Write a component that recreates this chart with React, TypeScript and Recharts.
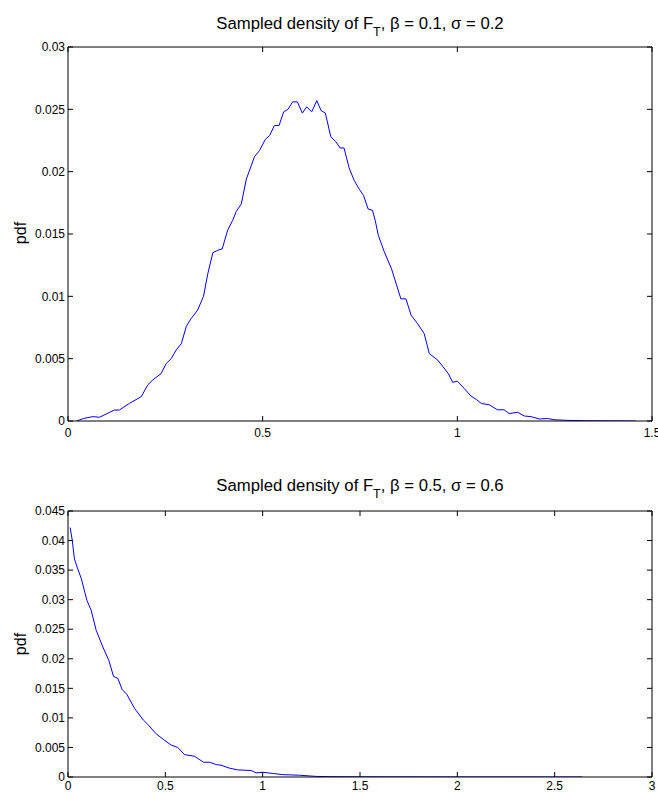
import React from 'react';
import { LineChart, Line, XAxis, YAxis } from 'recharts';

// beta = 0.1, sigma = 0.2
const topX = [
  0.022, 0.04, 0.064, 0.081, 0.098, 0.119, 0.132, 0.158, 0.188, 0.205, 0.218, 0.239, 0.252, 0.265, 0.278,
  0.291, 0.304, 0.316, 0.333, 0.348, 0.359, 0.372, 0.385, 0.396, 0.41, 0.423, 0.432, 0.445, 0.458, 0.479,
  0.492, 0.507, 0.518, 0.53, 0.542, 0.554, 0.565, 0.577, 0.589, 0.602, 0.613, 0.626, 0.639, 0.65, 0.661,
  0.675, 0.688, 0.699, 0.709, 0.722, 0.735, 0.748, 0.759, 0.771, 0.782, 0.789, 0.797, 0.812, 0.831, 0.855,
  0.868, 0.881, 0.898, 0.915, 0.928, 0.949, 0.962, 0.977, 0.988, 1.0, 1.018, 1.035, 1.05, 1.062, 1.082,
  1.103, 1.12, 1.133, 1.155, 1.172, 1.189, 1.211, 1.232, 1.249, 1.283, 1.335, 1.394, 1.458,
];
const topPdf = [
  0, 0.0002, 0.00035, 0.0003, 0.00056, 0.00088, 0.00088, 0.00142, 0.00195, 0.0029, 0.0033, 0.0038, 0.0046, 0.005, 0.0057,
  0.0062, 0.0076, 0.0082, 0.0089, 0.01, 0.0118, 0.0135, 0.0137, 0.0138, 0.0153, 0.0161, 0.0168, 0.0174, 0.0194, 0.0212,
  0.0217, 0.0226, 0.0229, 0.0237, 0.0237, 0.0248, 0.025, 0.0256, 0.0256, 0.0247, 0.0252, 0.0248, 0.0257, 0.0249, 0.0247,
  0.0228, 0.0224, 0.0219, 0.0219, 0.0203, 0.0193, 0.0186, 0.0181, 0.017, 0.0169, 0.0161, 0.0149, 0.0136, 0.0122, 0.0098,
  0.0098, 0.0085, 0.0078, 0.007, 0.0054, 0.0049, 0.0044, 0.0038, 0.0031, 0.0032, 0.0026, 0.002, 0.0017, 0.0014, 0.0013,
  0.0009, 0.0009, 0.0006, 0.0007, 0.0004, 0.00035, 0.00016, 0.0002, 0.0001, 0.00005, 0.00002, 0.00001, 0,
];
const topXTicks = [0, 0.5, 1, 1.5];
const topYTicks = [0, 0.005, 0.01, 0.015, 0.02, 0.025, 0.03];

// beta = 0.5, sigma = 0.6
const bottomX = [
  0.011, 0.022, 0.033, 0.05, 0.068, 0.097, 0.119, 0.145, 0.179, 0.21, 0.234, 0.256, 0.278, 0.302, 0.342,
  0.388, 0.41, 0.453, 0.496, 0.53, 0.564, 0.598, 0.65, 0.696, 0.727, 0.761, 0.786, 0.829, 0.872, 0.941,
  0.966, 1.0, 1.052, 1.103, 1.189, 1.275, 1.343, 1.5, 2.0, 2.643,
];
const bottomPdf = [
  0.0422, 0.04, 0.0369, 0.0352, 0.0336, 0.0299, 0.0282, 0.0248, 0.022, 0.0197, 0.017, 0.0167, 0.0148, 0.014, 0.0116,
  0.0096, 0.0089, 0.0073, 0.0062, 0.0054, 0.005, 0.0038, 0.0035, 0.0025, 0.0025, 0.0021, 0.002, 0.0015, 0.0012, 0.0011,
  0.0007, 0.0008, 0.0006, 0.0004, 0.0003, 0.0001, 0.00006, 0.00003, 0.00001, 0,
];
const bottomXTicks = [0, 0.5, 1, 1.5, 2, 2.5, 3];
const bottomYTicks = [0, 0.005, 0.01, 0.015, 0.02, 0.025, 0.03, 0.035, 0.04, 0.045];

const FONT = '"Liberation Sans", Arial, Helvetica, sans-serif';
const tickText = { fontSize: 12, fill: '#000', fontFamily: FONT };
const blank = () => '';

interface PanelProps {
  xs: number[];
  ys: number[];
  xTicks: number[];
  yTicks: number[];
  height: number;
  marginTop: number;
  marginBottom: number;
  xAxisHeight: number;
  xTickMargin: number;
}

// box axes with inward ticks, like a matlab figure
const Panel: React.FC<PanelProps> = ({ xs, ys, xTicks, yTicks, height, marginTop, marginBottom, xAxisHeight, xTickMargin }) => {
  const data = xs.map((x, i) => ({ x, pdf: ys[i] }));
  const xDomain: [number, number] = [xTicks[0], xTicks[xTicks.length - 1]];
  const yDomain: [number, number] = [yTicks[0], yTicks[yTicks.length - 1]];
  return (
    <LineChart width={658} height={height} data={data} margin={{ top: marginTop - 1, right: 5, bottom: marginBottom, left: 0 }}>
      <XAxis xAxisId="b" dataKey="x" type="number" domain={xDomain} ticks={xTicks} interval={0}
        height={xAxisHeight} tickSize={-5} tickMargin={xTickMargin} stroke="#000" tick={tickText} allowDataOverflow />
      <XAxis xAxisId="t" orientation="top" dataKey="x" type="number" domain={xDomain} ticks={xTicks} interval={0}
        height={1} tickSize={-5} tickFormatter={blank} stroke="#000" allowDataOverflow />
      <YAxis yAxisId="l" type="number" domain={yDomain} ticks={yTicks} interval={0}
        width={68} tickSize={-5} tickMargin={8} stroke="#000" tick={tickText} allowDataOverflow />
      <YAxis yAxisId="r" orientation="right" type="number" domain={yDomain} ticks={yTicks} interval={0}
        width={1} tickSize={-5} tickFormatter={blank} stroke="#000" allowDataOverflow />
      <Line xAxisId="b" yAxisId="l" type="linear" dataKey="pdf" stroke="#0000ff" strokeWidth={1}
        dot={false} isAnimationActive={false} />
    </LineChart>
  );
};

const Title: React.FC<{ top: number; beta: string; sigma: string }> = ({ top, beta, sigma }) => (
  <div style={{ position: 'absolute', left: 60, width: 600, top, textAlign: 'center', fontFamily: FONT, fontSize: 16.7, lineHeight: '18px', color: '#000', whiteSpace: 'nowrap' }}>
    Sampled density of F<span style={{ fontSize: 12.5, position: 'relative', top: 7 }}>T</span>, β = {beta}, σ = {sigma}
  </div>
);

const YLabel: React.FC<{ top: number }> = ({ top }) => (
  <div style={{ position: 'absolute', left: 21, top, transform: 'translate(-50%, -50%) rotate(-90deg)', fontFamily: FONT, fontSize: 16, lineHeight: '16px', color: '#000' }}>
    pdf
  </div>
);

export default function App() {
  return (
    <div style={{ position: 'absolute', left: 0, top: 0, width: 658, height: 792, background: '#fff', overflow: 'hidden' }}>
      <div style={{ position: 'absolute', left: 0, top: 0 }}>
        <Panel xs={topX} ys={topPdf} xTicks={topXTicks} yTicks={topYTicks} height={450}
          marginTop={47} marginBottom={7} xAxisHeight={22} xTickMargin={12} />
      </div>
      <div style={{ position: 'absolute', left: 0, top: 450 }}>
        <Panel xs={bottomX} ys={bottomPdf} xTicks={bottomXTicks} yTicks={bottomYTicks} height={342}
          marginTop={61} marginBottom={0} xAxisHeight={15} xTickMargin={9} />
      </div>
      <Title top={14.5} beta="0.1" sigma="0.2" />
      <Title top={476.5} beta="0.5" sigma="0.6" />
      <YLabel top={233} />
      <YLabel top={644} />
    </div>
  );
}
